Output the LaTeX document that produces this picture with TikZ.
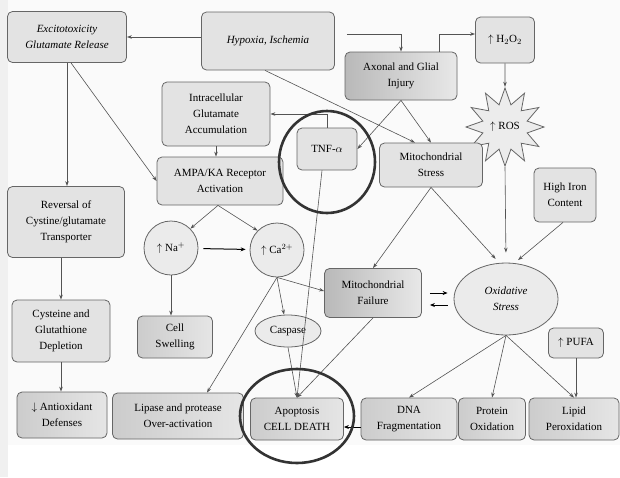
\documentclass[tikz,border=0pt]{standalone}
\usepackage{fontspec}
\setmainfont{Liberation Serif}
\usetikzlibrary{shapes.geometric,arrows.meta}
\begin{document}
\begin{tikzpicture}[x=1pt,y=-1pt,
    font=\fontsize{11}{16}\selectfont,
    box/.style={draw=gray!80!black, line width=0.8pt, rounded corners=5pt, fill=gray!22, align=center, inner sep=2pt},
    darkbox/.style={box, left color=gray!55, right color=gray!18},
    midbox/.style={box, left color=gray!40, right color=gray!20},
    oval/.style={ellipse, draw=gray!80!black, line width=0.8pt, fill=gray!16, align=center, inner sep=1pt},
    arr/.style={-{Stealth[length=5pt,width=3.5pt]}, draw=gray!65!black, line width=0.6pt},
    blk/.style={-{Stealth[length=5pt,width=4pt]}, line width=1pt},
    ring/.style={draw=gray!40!black, line width=2.6pt}]
    \useasboundingbox (0,0) rectangle (620,477);
    \fill[gray!4] (8,0) rectangle (620,445);
    \fill[gray!12] (0,0) rectangle (8,477);
    % top row
    \node[box, minimum width=119pt, minimum height=51pt] (excito) at (67,37) {\textit{Excitotoxicity}\\\textit{Glutamate Release}};
    \node[box, minimum width=133pt, minimum height=58pt] (hypoxia) at (268,41) {\textit{Hypoxia, Ischemia}};
    \node[darkbox, minimum width=112pt, minimum height=48pt] (axonal) at (401,76) {Axonal and Glial\\Injury};
    \node[box, minimum width=59pt, minimum height=46pt] (h2o2) at (505,40) {$\uparrow$~H$_2$O$_2$};
    \node[star, star points=12, star point ratio=1.7, minimum size=78pt, inner sep=0pt, draw=gray!80!black, line width=0.8pt, fill=gray!15] (ros) at (505,127) {$\uparrow$~ROS};
    % middle
    \node[box, minimum width=108pt, minimum height=64pt] (intra) at (216,114) {Intracellular\\Glutamate\\Accumulation};
    \node[box, minimum width=60pt, minimum height=42pt] (tnf) at (327,149) {TNF-$\alpha$};
    \node[box, minimum width=103pt, minimum height=44pt] (mstress) at (431,165) {Mitochondrial\\Stress};
    \node[box, minimum width=126pt, minimum height=48pt] (ampa) at (220,181) {AMPA/KA Receptor\\Activation};
    \node[box, minimum width=117pt, minimum height=71pt] (reversal) at (66,222) {Reversal of\\Cystine/glutamate\\Transporter};
    \node[oval, circle, minimum size=54pt] (na) at (171,248) {$\uparrow$~Na$^+$};
    \node[oval, circle, minimum size=54pt] (ca) at (277,250) {$\uparrow$~Ca$^{2+}$};
    \node[box, minimum width=62pt, minimum height=54pt] (iron) at (565,195) {High Iron\\Content};
    \node[darkbox, minimum width=97pt, minimum height=49pt] (mfail) at (373,293) {Mitochondrial\\Failure};
    \node[oval, minimum width=104pt, minimum height=72pt] (oxid) at (506,299) {\textit{Oxidative}\\\textit{Stress}};
    \node[midbox, minimum width=75pt, minimum height=42pt] (swell) at (175,337) {Cell\\Swelling};
    \node[box, minimum width=98pt, minimum height=62pt] (cysteine) at (61,331) {Cysteine and\\Glutathione\\Depletion};
    \node[oval, minimum width=66pt, minimum height=32pt] (caspase) at (288,331) {Caspase};
    \node[box, minimum width=55pt, minimum height=30pt] (pufa) at (576,343) {$\uparrow$~PUFA};
    % bottom row
    \node[midbox, minimum width=90pt, minimum height=46pt] (antiox) at (62,415) {$\downarrow$~Antioxidant\\Defenses};
    \node[midbox, minimum width=131pt, minimum height=46pt] (lipase) at (178,416) {Lipase and protease\\Over-activation};
    \node[midbox, minimum width=93pt, minimum height=42pt] (apop) at (297,419) {Apoptosis\\CELL DEATH};
    \node[midbox, minimum width=96pt, minimum height=42pt] (dna) at (409,419) {DNA\\Fragmentation};
    \node[midbox, minimum width=67pt, minimum height=42pt] (protein) at (492,419) {Protein\\Oxidation};
    \node[midbox, minimum width=90pt, minimum height=42pt] (lipid) at (574,419) {Lipid\\Peroxidation};
    % connectors
    \draw[arr] (hypoxia.west |- excito.east) -- (excito.east);
    \draw[arr] ([xshift=12pt,yshift=7pt]hypoxia.east) -| (axonal.north);
    \draw[arr] ([xshift=38pt]axonal.north) |- ([yshift=6pt]h2o2.west);
    \draw[arr] (h2o2) -- (ros);
    \draw[arr] ([xshift=-3pt]hypoxia.south) -- ([xshift=-16pt]mstress.north);
    \draw[arr] (axonal.south) -- (tnf.east);
    \draw[arr] (axonal.south) -- (mstress.north);
    \draw[arr] (tnf.north) |- (intra.east);
    \draw[arr] (intra.south) -- (intra.south |- ampa.north);
    \draw[arr] ([xshift=4pt]excito.south) -- (ampa.west);
    \draw[arr] (excito.south) -- (excito.south |- reversal.north);
    \draw[arr] (cysteine.north |- reversal.south) -- (cysteine.north);
    \draw[arr] (cysteine.south) -- (cysteine.south |- antiox.north);
    \draw[arr] ([xshift=-2pt]ampa.south) -- (na.45);
    \draw[arr] ([xshift=-2pt]ampa.south) -- (ca.135);
    \draw[blk, shorten <=5pt, shorten >=4pt] (na) -- (ca);
    \draw[arr] (na.south) -- (na.south |- swell.north);
    \draw[arr] (ca.south) -- ([yshift=2pt]mfail.west);
    \draw[arr] (ca.south) -- ([xshift=29pt]lipase.north);
    \draw[arr] (ca.south) -- ([xshift=-4pt]caspase.north);
    \draw[arr] (caspase.south) -- (apop.north);
    \draw[arr] ([xshift=-5pt]tnf.south) -- (apop.north);
    \draw[arr] (mfail.south) -- (apop.north);
    \draw[arr] (mstress.south) -- (mfail.north);
    \draw[arr, shorten >=5pt] (mstress.south) -- ([xshift=-7pt]oxid.north);
    \draw[arr, shorten >=10pt] (ros.south) -- (oxid.north);
    \draw[arr, shorten >=4pt] ([xshift=-2pt]iron.south) -- ([xshift=9pt]oxid.north);
    \draw[blk, shorten <=8pt, shorten >=6pt] (mfail.east) -- (mfail.east -| oxid.west);
    \draw[blk, shorten <=6pt, shorten >=8pt] ([yshift=-6pt]oxid.west) -- ([yshift=-12pt]mfail.east);
    \draw[arr] (oxid.south) -- (dna.north);
    \draw[arr] (oxid.south) -- (protein.north);
    \draw[arr] (oxid.south) -- (lipid.north);
    \draw[arr] (pufa.south) -- (pufa.south |- lipid.north);
    \draw[blk] ([yshift=-8pt]dna.west) -- ([yshift=-8pt]apop.east);
    % highlight rings
    \draw[ring] (327,162) ellipse[x radius=48pt, y radius=51pt];
    \draw[ring] (297,416) ellipse[x radius=57pt, y radius=47pt];
\end{tikzpicture}
\end{document}
